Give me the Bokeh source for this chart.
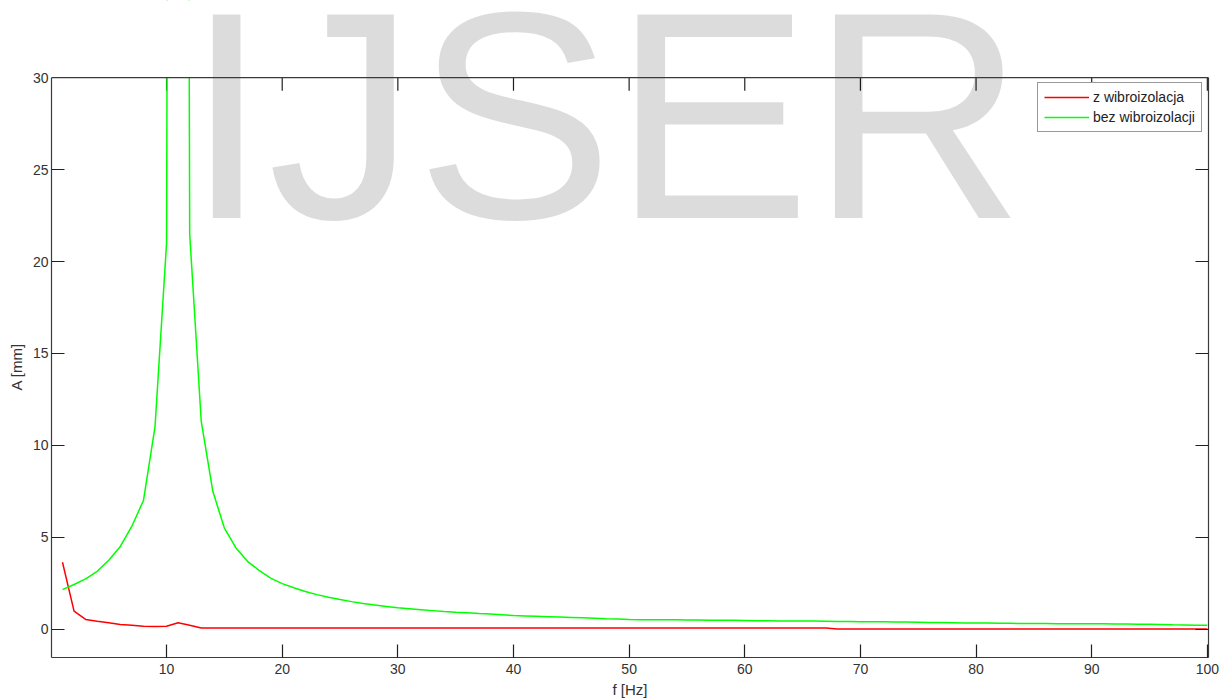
from bokeh.plotting import figure
from bokeh.models import (Range1d, FixedTicker, LinearAxis, Label, Legend, LegendItem,
                          Span, BoxAnnotation, Title)
from bokeh.embed import file_html
from bokeh.resources import INLINE

# Excitation frequency f [Hz]
freq = [
    1, 2, 3, 4, 5, 6, 7, 8, 9, 10,
    11, 12, 13, 14, 15, 16, 17, 18, 19, 20,
    21, 22, 23, 24, 25, 26, 27, 28, 29, 30,
    31, 32, 33, 34, 35, 36, 37, 38, 39, 40,
    41, 42, 43, 44, 45, 46, 47, 48, 49, 50,
    51, 52, 53, 54, 55, 56, 57, 58, 59, 60,
    61, 62, 63, 64, 65, 66, 67, 68, 69, 70,
    71, 72, 73, 74, 75, 76, 77, 78, 79, 80,
    81, 82, 83, 84, 85, 86, 87, 88, 89, 90,
    91, 92, 93, 94, 95, 96, 97, 98, 99, 100,
]

# Amplitude A [mm] with vibration isolation
amp_with = [
    3.64, 0.98, 0.53, 0.43, 0.35, 0.26, 0.22, 0.16, 0.15, 0.16,
    0.35, 0.22, 0.07, 0.06, 0.06, 0.06, 0.06, 0.06, 0.06, 0.06,
    0.06, 0.06, 0.06, 0.06, 0.06, 0.06, 0.06, 0.06, 0.06, 0.06,
    0.06, 0.06, 0.06, 0.06, 0.06, 0.06, 0.06, 0.06, 0.06, 0.06,
    0.06, 0.06, 0.06, 0.06, 0.06, 0.06, 0.06, 0.06, 0.06, 0.06,
    0.06, 0.06, 0.06, 0.06, 0.06, 0.06, 0.06, 0.06, 0.06, 0.06,
    0.06, 0.06, 0.06, 0.06, 0.06, 0.06, 0.06, 0.01, 0.01, 0.01,
    0.01, 0.01, 0.01, 0.01, 0.01, 0.01, 0.01, 0.01, 0.01, 0.01,
    0.01, 0.01, 0.01, 0.01, 0.01, 0.01, 0.01, 0.01, 0.01, 0.01,
    0.01, 0.01, 0.01, 0.01, 0.01, 0.01, 0.01, 0.01, 0.01, 0.01,
]

# Amplitude A [mm] without vibration isolation (resonance near 11 Hz)
amp_without = [
    2.15, 2.43, 2.74, 3.15, 3.75, 4.50, 5.60, 7.00, 11.0, 21.0,
    250.0, 21.5, 11.3, 7.50, 5.50, 4.42, 3.69, 3.20, 2.78, 2.48,
    2.25, 2.05, 1.88, 1.74, 1.61, 1.50, 1.40, 1.32, 1.24, 1.16,
    1.11, 1.06, 1.01, 0.96, 0.92, 0.89, 0.85, 0.82, 0.78, 0.74,
    0.72, 0.70, 0.68, 0.66, 0.64, 0.62, 0.60, 0.57, 0.55, 0.53,
    0.52, 0.52, 0.51, 0.51, 0.50, 0.50, 0.49, 0.48, 0.48, 0.47,
    0.46, 0.46, 0.45, 0.45, 0.44, 0.44, 0.43, 0.42, 0.42, 0.41,
    0.40, 0.40, 0.39, 0.39, 0.38, 0.37, 0.36, 0.35, 0.34, 0.33,
    0.33, 0.32, 0.32, 0.31, 0.31, 0.31, 0.30, 0.30, 0.30, 0.29,
    0.29, 0.28, 0.28, 0.27, 0.27, 0.26, 0.24, 0.23, 0.22, 0.22,
]

x_ticks = [10, 20, 30, 40, 50, 60, 70, 80, 90, 100]
y_ticks = [0, 5, 10, 15, 20, 25, 30]

FONT = "Liberation Sans"
AXIS_COLOR = "#3a3a3a"
TICK_COLOR = "#202020"
TEXT_COLOR = "#333333"

Y_LOW, Y_TOP = -1.54, 30.0   # limits of the axes box
Y_CANVAS_TOP = 34.2          # frame reaches the top of the page so the banner text is not cut

p = figure(
    width=1222, height=700, title=None,
    output_backend="svg", toolbar_location=None,
    x_range=Range1d(0.05, 100.1), y_range=Range1d(Y_LOW, Y_CANVAS_TOP),
    min_border_left=51, min_border_right=14,
    min_border_top=0, min_border_bottom=42,
)
p.background_fill_color = "white"
p.border_fill_color = "white"
p.grid.visible = False
p.outline_line_color = None


def style_axis(ax, ticks, labelled):
    ax.ticker = FixedTicker(ticks=ticks)
    ax.major_tick_in = 13
    ax.major_tick_out = 0
    ax.minor_tick_line_color = None
    ax.axis_line_color = AXIS_COLOR
    ax.axis_line_width = 1.2
    ax.major_tick_line_color = TICK_COLOR
    ax.major_tick_line_width = 1.2
    if labelled:
        ax.major_label_text_font = FONT
        ax.major_label_text_font_size = "14px"
        ax.major_label_text_color = TEXT_COLOR
    else:
        ax.major_label_text_font_size = "1px"
        ax.major_label_text_color = None
        ax.major_label_standoff = 0


xa = p.xaxis[0]
ya = p.yaxis[0]
style_axis(xa, x_ticks, True)
style_axis(ya, y_ticks, True)
ya.bounds = (Y_LOW, Y_TOP)
xa.major_label_standoff = 6
ya.major_label_standoff = 3
xa.axis_label = "f [Hz]"
xa.axis_label_text_font = FONT
xa.axis_label_text_font_size = "15px"
xa.axis_label_text_font_style = "normal"
xa.axis_label_text_color = TEXT_COLOR
xa.axis_label_standoff = 4

# y-axis caption, centred on the box rather than on the taller frame
p.add_layout(Title(text="A [mm]", align="left", offset=267, standoff=9,
                   text_font=FONT, text_font_size="15px", text_font_style="normal",
                   text_color=TEXT_COLOR), "left")

# right edge of the box with inward ticks
right_ax = LinearAxis(bounds=(Y_LOW, Y_TOP))
style_axis(right_ax, y_ticks, False)
p.add_layout(right_ax, "right")

# top edge of the box with inward ticks
p.ray(x=x_ticks, y=[Y_TOP] * len(x_ticks), length=13, length_units="screen",
      angle=-90, angle_units="deg", line_color=TICK_COLOR, line_width=1.2)

r_with = p.line(freq, amp_with, line_color="#ff0000", line_width=1.5)
r_without = p.line(freq, amp_without, line_color="#00ff00", line_width=1.5)

# blank out whatever rises above the box
p.add_layout(BoxAnnotation(bottom=Y_TOP, top=Y_CANVAS_TOP + 100,
                           left=-100, right=200,
                           fill_color="white", fill_alpha=1.0,
                           line_color=None, level="annotation"))

# translucent banner text
p.add_layout(Label(
    x=11.64, y=27.94, text="IJSER",
    text_font=FONT, text_font_size="296px",
    text_color="#000000", text_alpha=0.137,
    text_align="left", text_baseline="alphabetic", level="annotation",
))

p.add_layout(Span(location=Y_TOP, dimension="width", line_color=AXIS_COLOR,
                  line_width=1.2, level="annotation"))

legend = Legend(
    items=[
        LegendItem(label="z wibroizolacja", renderers=[r_with]),
        LegendItem(label="bez wibroizolacji", renderers=[r_without]),
    ],
    location=(986, 525),
    padding=6,
    spacing=4,
    glyph_width=45,
    glyph_height=16,
    label_height=16,
    label_standoff=4,
    label_text_font=FONT,
    label_text_font_size="14px",
    label_text_color="#222222",
    border_line_color="#333333",
    border_line_width=1,
    background_fill_color="white",
    background_fill_alpha=1.0,
)
p.add_layout(legend)

open("out.html", "w").write(file_html(p, INLINE))
